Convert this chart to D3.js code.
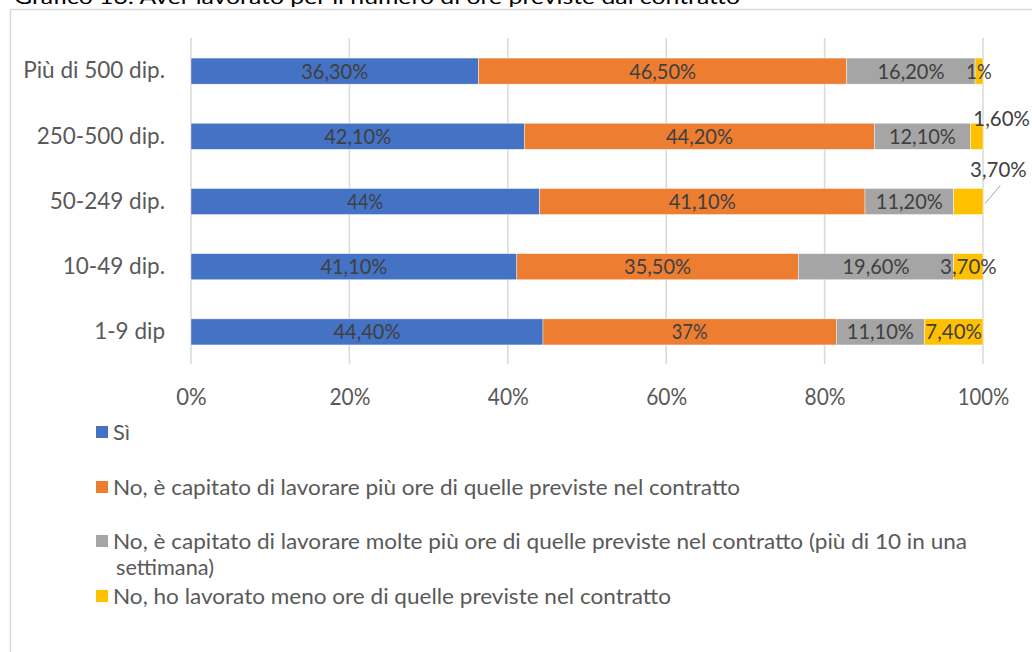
<!DOCTYPE html>
<html>
<head>
<meta charset="utf-8">
<script src="https://cdn.jsdelivr.net/npm/d3@7/dist/d3.min.js"></script>
<style>
  html, body { margin: 0; padding: 0; background: #fff; }
  svg { display: block; font-family: Lato, "Open Sans", sans-serif; }
</style>
</head>
<body>
<svg id="chart" width="1032" height="652"></svg>
<script>
// Company size classes, top to bottom
const categories = ["Più di 500 dip.", "250-500 dip.", "50-249 dip.", "10-49 dip.", "1-9 dip"];

// Answer series (percent of respondents per size class)
const seriesNames = [
  "Sì",
  "No, è capitato di lavorare più ore di quelle previste nel contratto",
  "No, è capitato di lavorare molte più ore di quelle previste nel contratto (più di 10 in una settimana)",
  "No, ho lavorato meno ore di quelle previste nel contratto"
];
const si          = [36.3, 42.1, 44.0, 41.1, 44.4];
const piuOre      = [46.5, 44.2, 41.1, 35.5, 37.0];
const moltePiuOre = [16.2, 12.1, 11.2, 19.6, 11.1];
const menoOre     = [1.0, 1.6, 3.7, 3.7, 7.4];

const tickValues = [0, 0.2, 0.4, 0.6, 0.8, 1];
const titleText = "Grafico 13: Aver lavorato per il numero di ore previste dal contratto";

const colors = ["#4472C4", "#ED7D31", "#A5A5A5", "#FFC000"];

// Labels that sit outside their (too narrow) segment: "series|category" -> offset
const outsideLabels = {
  "3|250-500 dip.": { dx: 25, dy: -18, leader: false },
  "3|50-249 dip.":  { dx: 30, dy: -32, leader: true }
};

const fmtLabel = v => Number.isInteger(v) ? v + "%" : v.toFixed(2).replace(".", ",") + "%";

const rows = categories.map((c, i) => ({
  cat: c, s0: si[i], s1: piuOre[i], s2: moltePiuOre[i], s3: menoOre[i]
}));
const keys = ["s0", "s1", "s2", "s3"];

const svg = d3.select("#chart");

// Title (runs into the top edge) and outer frame
svg.append("text")
  .attr("x", 14).attr("y", 4)
  .attr("font-size", 20).attr("fill", "#000")
  .attr("textLength", 726).attr("lengthAdjust", "spacingAndGlyphs")
  .text(titleText);

svg.append("path")
  .attr("d", "M10.5,660 V9.5 H1040")
  .attr("fill", "none").attr("stroke", "#d9d9d9").attr("stroke-width", 1.5);

const x = d3.scaleLinear().domain([0, 1]).range([191, 983]);
const y = d3.scaleBand().domain(categories).range([38.5, 364.5]).paddingInner(0.6).paddingOuter(0.3);

// Vertical gridlines
svg.append("g").selectAll("line").data(tickValues).join("line")
  .attr("x1", d => x(d)).attr("x2", d => x(d))
  .attr("y1", 38).attr("y2", 364)
  .attr("stroke", "#d9d9d9").attr("stroke-width", 1.5);

// Percentage axis labels
const axis = d3.axisBottom(x).tickValues(tickValues).tickFormat(d => Math.round(d * 100) + "%").tickSize(0).tickPadding(0);
const gx = svg.append("g").attr("transform", "translate(0,397)").call(axis);
gx.select(".domain").remove();
gx.selectAll("text").attr("font-size", 23).attr("fill", "#595959")
  .attr("font-family", "Lato, sans-serif").attr("dy", "0.36em")
  .each(function () {
    const t = d3.select(this);
    const n = t.text().length - 1;
    t.attr("textLength", n * 10.5 + 20).attr("lengthAdjust", "spacingAndGlyphs");
  });

// Category labels
const yAxis = d3.axisLeft(y).tickSize(0).tickPadding(0);
const gy = svg.append("g").attr("transform", "translate(165,0)").call(yAxis);
gy.select(".domain").remove();
gy.selectAll("text").attr("font-size", 22.5).attr("fill", "#595959").attr("font-family", "Lato, sans-serif");

// Stacked bars, each row normalised to 100%
const stack = d3.stack().keys(keys).offset(d3.stackOffsetExpand);
const layers = stack(rows);

const gBars = svg.append("g");
layers.forEach((layer, li) => {
  gBars.append("g").attr("fill", colors[li])
    .selectAll("rect").data(layer).join("rect")
    .attr("x", d => x(d[0]))
    .attr("width", d => x(d[1]) - x(d[0]))
    .attr("y", d => y(d.data.cat))
    .attr("height", y.bandwidth())
    .attr("stroke", "#fff").attr("stroke-width", 0.6).attr("stroke-opacity", 0.7);
});

// Data labels
const gLabels = svg.append("g").attr("font-size", 21).attr("fill", "#404040").attr("text-anchor", "middle");
layers.forEach((layer, li) => {
  layer.forEach(d => {
    const v = d.data[keys[li]];
    let cx = (x(d[0]) + x(d[1])) / 2;
    let cy = y(d.data.cat) + y.bandwidth() / 2;
    const off = outsideLabels[li + "|" + d.data.cat];
    if (off) {
      if (off.leader) {
        gLabels.append("line")
          .attr("x1", cx + off.dx + 2).attr("y1", cy + off.dy + 16)
          .attr("x2", x(d[1]) + 2).attr("y2", cy + 2)
          .attr("stroke", "#a6a6a6").attr("stroke-width", 1);
      }
      cx += off.dx; cy += off.dy;
    }
    const label = fmtLabel(v);
    gLabels.append("text")
      .attr("x", cx).attr("y", cy).attr("dy", "0.36em")
      .attr("textLength", (label.length - 1) * 10.4 + 15)
      .attr("lengthAdjust", "spacingAndGlyphs")
      .text(label);
  });
});

// Legend
const legendItems = [
  { i: 0, lines: [seriesNames[0]], y: 432, w: [17] },
  { i: 1, lines: [seriesNames[1]], y: 487, w: [627] },
  { i: 2, lines: ["No, è capitato di lavorare molte più ore di quelle previste nel contratto (più di 10 in una", "settimana)"], y: 541, w: [854, 98] },
  { i: 3, lines: [seriesNames[3]], y: 596, w: [558] }
];
const gLeg = svg.append("g").attr("font-size", 21).attr("fill", "#595959");
legendItems.forEach(it => {
  gLeg.append("rect").attr("x", 96).attr("y", it.y - 6).attr("width", 12).attr("height", 12).attr("fill", colors[it.i]);
  it.lines.forEach((ln, k) => {
    gLeg.append("text")
      .attr("x", k === 0 ? 113 : 116).attr("y", it.y + k * 26).attr("dy", "0.36em")
      .attr("textLength", it.w[k]).attr("lengthAdjust", "spacingAndGlyphs")
      .text(ln);
  });
});
</script>
</body>
</html>
